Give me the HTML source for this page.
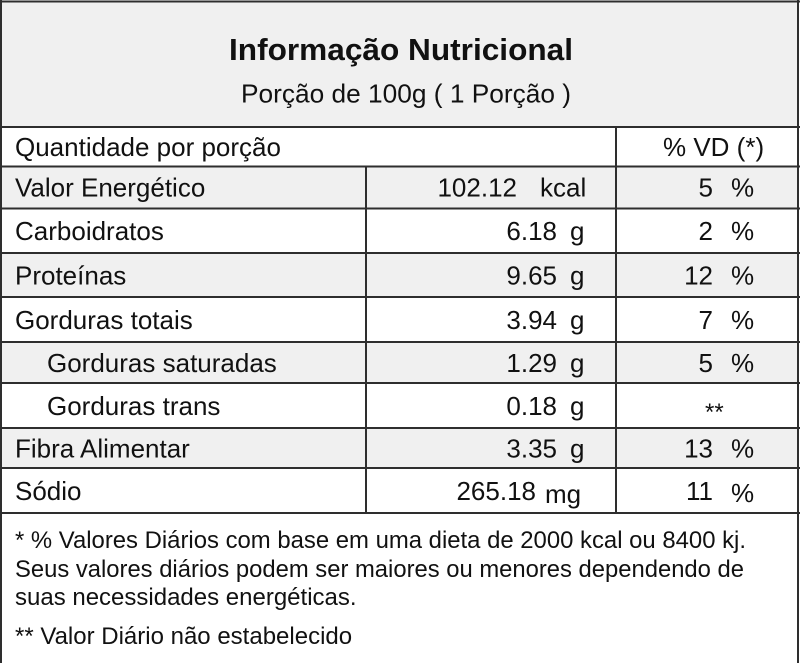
<!DOCTYPE html>
<html>
<head>
<meta charset="utf-8">
<style>
  html, body { margin: 0; padding: 0; background: #ffffff; }
  svg { display: block; }
  text { font-family: "Liberation Sans", Arial, sans-serif; fill: #111; }
</style>
</head>
<body>
<svg width="800" height="663" viewBox="0 0 800 663" xmlns="http://www.w3.org/2000/svg">
  <!-- backgrounds -->
  <rect x="0" y="0" width="800" height="663" fill="#ffffff"/>
  <rect x="1" y="1" width="797" height="126" fill="#f0f0f0"/>
  <rect x="1" y="166" width="797" height="42" fill="#f0f0f0"/>
  <rect x="1" y="253" width="797" height="44" fill="#f0f0f0"/>
  <rect x="1" y="342" width="797" height="41" fill="#f0f0f0"/>
  <rect x="1" y="428" width="797" height="40" fill="#f0f0f0"/>

  <!-- grid lines -->
  <g stroke="#2e2e2e" stroke-width="2" fill="none">
    <line x1="0" y1="1.5" x2="800" y2="1.5"/>
    <line x1="1" y1="0" x2="1" y2="663"/>
    <line x1="798" y1="0" x2="798" y2="663"/>
    <line x1="0" y1="127" x2="800" y2="127"/>
    <line x1="0" y1="166.5" x2="800" y2="166.5"/>
    <line x1="0" y1="208.5" x2="800" y2="208.5"/>
    <line x1="0" y1="253" x2="800" y2="253"/>
    <line x1="0" y1="297" x2="800" y2="297"/>
    <line x1="0" y1="342" x2="800" y2="342"/>
    <line x1="0" y1="383" x2="800" y2="383"/>
    <line x1="0" y1="428" x2="800" y2="428"/>
    <line x1="0" y1="468" x2="800" y2="468"/>
    <line x1="0" y1="513" x2="800" y2="513"/>
    <line x1="366" y1="166" x2="366" y2="513"/>
    <line x1="616" y1="127" x2="616" y2="513"/>
  </g>

  <!-- title -->
  <text x="229" y="60" font-size="31" font-weight="bold" textLength="344" lengthAdjust="spacingAndGlyphs">Informação Nutricional</text>
  <text x="241" y="102.5" font-size="26" textLength="330" lengthAdjust="spacingAndGlyphs">Porção de 100g ( 1 Porção )</text>

  <!-- header row -->
  <text x="15" y="156" font-size="26">Quantidade por porção</text>
  <text x="663" y="156" font-size="26">% VD (*)</text>

  <!-- labels -->
  <g font-size="26">
    <text x="15" y="196.5">Valor Energético</text>
    <text x="15" y="240">Carboidratos</text>
    <text x="15" y="284.5">Proteínas</text>
    <text x="15" y="329">Gorduras totais</text>
    <text x="47" y="372">Gorduras saturadas</text>
    <text x="47" y="415">Gorduras trans</text>
    <text x="15" y="457.5">Fibra Alimentar</text>
    <text x="15" y="500">Sódio</text>
  </g>

  <!-- amounts -->
  <g font-size="26">
    <text x="517" y="196.5" text-anchor="end">102.12</text>
    <text x="540" y="196.5">kcal</text>

    <text x="557" y="240" text-anchor="end">6.18</text>
    <text x="570" y="240">g</text>

    <text x="557" y="284.5" text-anchor="end">9.65</text>
    <text x="570" y="284.5">g</text>

    <text x="557" y="329" text-anchor="end">3.94</text>
    <text x="570" y="329">g</text>

    <text x="557" y="372" text-anchor="end">1.29</text>
    <text x="570" y="372">g</text>

    <text x="557" y="415" text-anchor="end">0.18</text>
    <text x="570" y="415">g</text>

    <text x="557" y="457.5" text-anchor="end">3.35</text>
    <text x="570" y="457.5">g</text>

    <text x="536" y="500" text-anchor="end">265.18</text>
    <text x="545" y="503">mg</text>
  </g>

  <!-- %VD -->
  <g font-size="26">
    <text x="713" y="196.5" text-anchor="end">5</text>
    <text x="731" y="196.5">%</text>

    <text x="713" y="240" text-anchor="end">2</text>
    <text x="731" y="240">%</text>

    <text x="713" y="284.5" text-anchor="end">12</text>
    <text x="731" y="284.5">%</text>

    <text x="713" y="329" text-anchor="end">7</text>
    <text x="731" y="329">%</text>

    <text x="713" y="372" text-anchor="end">5</text>
    <text x="731" y="372">%</text>

    <text x="705" y="420" font-size="24">**</text>

    <text x="713" y="457.5" text-anchor="end">13</text>
    <text x="731" y="457.5">%</text>

    <text x="713" y="500" text-anchor="end">11</text>
    <text x="731" y="502">%</text>
  </g>

  <!-- footer -->
  <g font-size="24">
    <text x="15" y="548" textLength="731" lengthAdjust="spacingAndGlyphs">* % Valores Diários com base em uma dieta de 2000 kcal ou 8400 kj.</text>
    <text x="15" y="577" textLength="729" lengthAdjust="spacingAndGlyphs">Seus valores diários podem ser maiores ou menores dependendo de</text>
    <text x="15" y="605">suas necessidades energéticas.</text>
    <text x="15" y="644">** Valor Diário não estabelecido</text>
  </g>
</svg>
</body>
</html>
